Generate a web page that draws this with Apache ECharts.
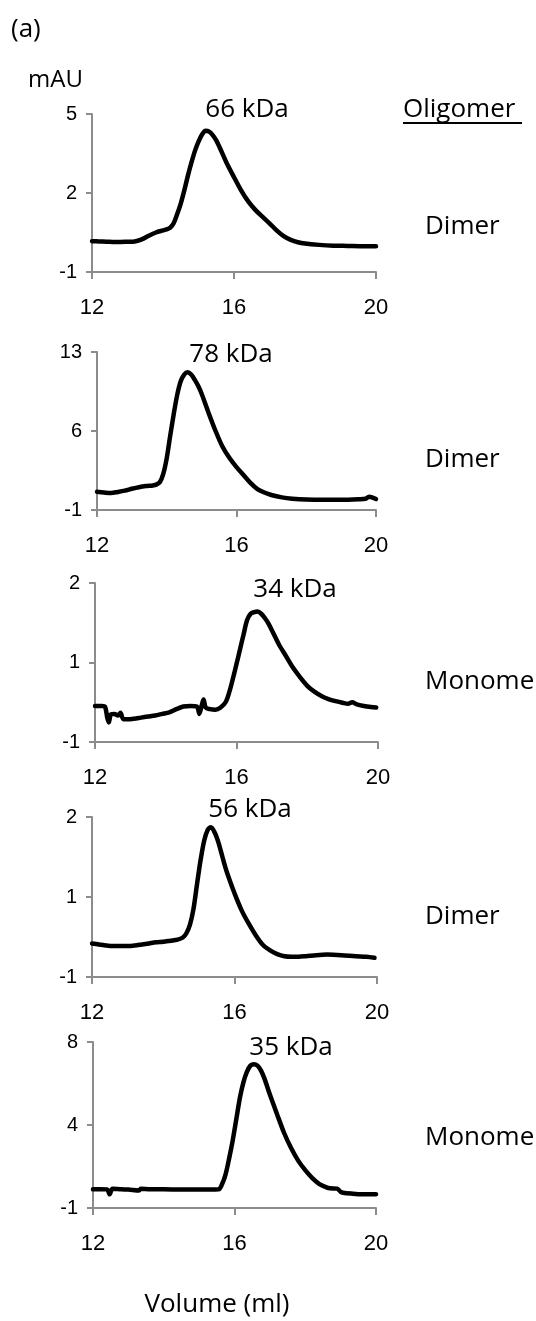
<!DOCTYPE html>
<html>
<head>
<meta charset="utf-8">
<script src="https://cdn.jsdelivr.net/npm/echarts@6/dist/echarts.min.js"></script>
<style>
html,body{margin:0;padding:0;background:#fff;}
#chart{width:536px;height:1321px;}
</style>
</head>
<body>
<div id="chart"></div>
<script>
// ---- data (volume in ml, absorbance in mAU) ----
var x1 = [12.0,12.2,12.4,12.6,12.8,13.0,13.2,13.4,13.6,13.8,14.0,14.1,14.2,14.3,14.4,14.5,14.6,14.7,14.8,14.9,15.0,15.1,15.2,15.3,15.4,15.5,15.6,15.7,15.8,16.0,16.2,16.4,16.6,16.8,17.0,17.2,17.4,17.6,17.8,18.0,18.4,18.8,19.2,19.6,20.0];
var y1 = [0.17,0.16,0.15,0.14,0.14,0.15,0.16,0.24,0.38,0.50,0.58,0.62,0.68,0.85,1.2,1.6,2.1,2.65,3.15,3.6,3.95,4.22,4.36,4.33,4.2,4.0,3.72,3.42,3.12,2.6,2.1,1.68,1.36,1.1,0.85,0.58,0.36,0.22,0.13,0.08,0.03,0.0,-0.01,-0.02,-0.02];

var x2 = [12.0,12.2,12.4,12.6,12.8,13.0,13.2,13.4,13.6,13.7,13.8,13.9,14.0,14.1,14.2,14.3,14.4,14.5,14.6,14.7,14.8,14.9,15.0,15.2,15.4,15.6,15.8,16.0,16.2,16.4,16.6,16.8,17.0,17.3,17.6,18.0,18.5,19.0,19.5,19.7,19.8,19.9,20.0];
var y2 = [0.62,0.55,0.5,0.6,0.72,0.88,1.02,1.12,1.18,1.25,1.45,2.2,3.6,5.6,7.5,9.2,10.4,11.0,11.2,11.0,10.55,10.0,9.3,7.6,6.0,4.6,3.6,2.8,2.1,1.4,0.85,0.55,0.33,0.12,0.0,-0.08,-0.1,-0.1,-0.05,0.0,0.18,0.1,-0.03];

var x3 = [12.0,12.1,12.2,12.28,12.35,12.39,12.45,12.55,12.65,12.72,12.8,12.9,13.1,13.3,13.5,13.7,13.9,14.1,14.3,14.5,14.7,14.88,14.95,15.02,15.07,15.13,15.25,15.4,15.55,15.7,15.8,15.9,16.0,16.1,16.2,16.3,16.4,16.5,16.6,16.7,16.8,16.9,17.0,17.2,17.4,17.6,17.8,18.0,18.2,18.4,18.6,18.8,19.0,19.15,19.27,19.4,19.6,19.8,19.95];
var y3 = [-0.32,-0.32,-0.32,-0.33,-0.55,-0.63,-0.48,-0.47,-0.5,-0.45,-0.57,-0.57,-0.56,-0.54,-0.52,-0.5,-0.47,-0.44,-0.38,-0.33,-0.32,-0.33,-0.47,-0.3,-0.2,-0.35,-0.38,-0.39,-0.35,-0.24,-0.05,0.2,0.47,0.75,1.03,1.3,1.42,1.45,1.46,1.42,1.34,1.24,1.11,0.84,0.62,0.4,0.22,0.06,-0.05,-0.13,-0.19,-0.23,-0.26,-0.28,-0.25,-0.29,-0.32,-0.34,-0.35];

var x4 = [12.0,12.2,12.4,12.6,12.8,13.0,13.2,13.4,13.6,13.8,14.0,14.2,14.4,14.55,14.65,14.75,14.85,14.95,15.05,15.15,15.25,15.34,15.45,15.55,15.65,15.75,15.85,16.0,16.2,16.4,16.6,16.8,17.0,17.2,17.4,17.6,17.8,18.0,18.3,18.6,19.0,19.4,19.7,19.93];
var y4 = [-0.37,-0.39,-0.41,-0.42,-0.42,-0.42,-0.41,-0.39,-0.37,-0.35,-0.34,-0.32,-0.3,-0.26,-0.18,-0.02,0.28,0.75,1.2,1.56,1.76,1.81,1.7,1.52,1.28,1.04,0.84,0.57,0.25,0.0,-0.22,-0.4,-0.5,-0.57,-0.61,-0.62,-0.62,-0.61,-0.59,-0.58,-0.59,-0.61,-0.62,-0.64];

var x5 = [12.0,12.2,12.4,12.47,12.55,12.8,13.0,13.3,13.35,13.6,14.0,14.5,15.0,15.3,15.55,15.65,15.75,15.85,15.95,16.05,16.15,16.25,16.35,16.45,16.55,16.65,16.75,16.85,17.0,17.2,17.4,17.6,17.8,18.0,18.2,18.4,18.6,18.7,18.9,19.0,19.07,19.3,19.6,20.0];
var y5 = [0.01,0.02,0.01,-0.26,0.04,0.01,0.0,-0.05,0.05,0.02,0.01,0.0,0.0,0.0,0.01,0.3,0.84,1.7,2.67,3.8,4.95,5.8,6.38,6.72,6.8,6.72,6.45,6.0,5.15,4.1,3.08,2.25,1.57,1.05,0.62,0.3,0.12,0.07,0.05,-0.12,-0.17,-0.22,-0.26,-0.26];

// tick values (y labels are shown rounded, as in the original)
var xTicks = [12, 16, 20];
var yTicks1 = [-1, 2, 5];
var yTicks2 = [-1, 6, 13];
var yTicks3 = [-1, 0.5, 2];
var yTicks4 = [-1, 0.5, 2];
var yTicks5 = [-1, 3.5, 8];

var massLabels = ['66 kDa', '78 kDa', '34 kDa', '56 kDa', '35 kDa'];
var oligomers = ['Dimer', 'Dimer', 'Monomer', 'Dimer', 'Monomer'];

// ---- layout ----
var grids = [
  {left: 92, top: 114, width: 284, height: 158},
  {left: 97, top: 352, width: 279, height: 158},
  {left: 95, top: 583, width: 283, height: 159},
  {left: 92, top: 817, width: 285, height: 160},
  {left: 93, top: 1042, width: 283, height: 166}
];
var massPos = [[247, 110], [231, 355], [295, 590], [250, 810], [291, 1048]];
var oligoY = [227, 460, 682, 917, 1138];

var xs = [x1, x2, x3, x4, x5];
var ys = [y1, y2, y3, y4, y5];
var yTicks = [yTicks1, yTicks2, yTicks3, yTicks4, yTicks5];

var axisGray = '#8c8c8c';
var textFont = '"Open Sans", "Noto Sans", sans-serif';
var numFont = '"Liberation Sans", Arial, sans-serif';

function zip(a, b) { return a.map(function (v, i) { return [v, b[i]]; }); }

var option = {
  animation: false,
  backgroundColor: '#fff',
  textStyle: {fontFamily: numFont, fontSize: 19, color: '#000'},
  grid: [], xAxis: [], yAxis: [], series: [], graphic: []
};

for (var i = 0; i < 5; i++) {
  var g = grids[i];
  option.grid.push({left: g.left, top: g.top, width: g.width, height: g.height, containLabel: false, outerBoundsMode: 'none'});
  var yt = yTicks[i];
  option.xAxis.push({
    type: 'value', gridIndex: i, min: xTicks[0], max: xTicks[xTicks.length - 1], interval: 4,
    axisLine: {show: true, onZero: false, lineStyle: {color: axisGray, width: 2}},
    axisTick: {show: true, length: 7, lineStyle: {color: axisGray, width: 2}},
    axisLabel: {show: true, margin: 24, color: '#000', fontSize: 22, fontFamily: numFont,
      formatter: function (v) { return '{t|' + v + '}'; },
      rich: {t: {fontSize: 22, fontFamily: numFont, color: '#000', lineHeight: 24}}},
    splitLine: {show: false}
  });
  option.yAxis.push({
    type: 'value', gridIndex: i, min: yt[0], max: yt[yt.length - 1],
    axisLine: {show: true, onZero: false, lineStyle: {color: axisGray, width: 2}},
    axisTick: {show: true, length: 6, customValues: yt, lineStyle: {color: axisGray, width: 2}},
    axisLabel: {show: true, margin: 15, color: '#000', fontSize: 20, fontFamily: numFont,
      customValues: yt,
      formatter: function (v) { return '{t|' + Math.round(v) + '}'; },
      rich: {t: {fontSize: 20, fontFamily: numFont, color: '#000', lineHeight: 22}}},
    splitLine: {show: false}
  });
  option.series.push({
    type: 'line', xAxisIndex: i, yAxisIndex: i, data: zip(xs[i], ys[i]),
    showSymbol: false, smooth: 0.3,
    lineStyle: {color: '#000', width: 4.5, cap: 'round', join: 'round'},
    silent: true, clip: false
  });
  option.graphic.push({
    type: 'text', x: massPos[i][0], y: massPos[i][1],
    style: {text: massLabels[i], fill: '#000', font: '26px ' + textFont, align: 'center', verticalAlign: 'middle'}
  });
  option.graphic.push({
    type: 'text', x: 425, y: oligoY[i],
    style: {text: oligomers[i], fill: '#000', font: '26px ' + textFont, align: 'left', verticalAlign: 'middle'}
  });
}

option.graphic.push(
  {type: 'text', x: 11, y: 30, style: {text: '(a)', fill: '#000', font: '26px ' + textFont, align: 'left', verticalAlign: 'middle'}},
  {type: 'text', x: 28, y: 80, style: {text: 'mAU', fill: '#000', font: '24px ' + textFont, align: 'left', verticalAlign: 'middle'}},
  {type: 'text', x: 403, y: 110, style: {text: 'Oligomer', fill: '#000', font: '26px ' + textFont, align: 'left', verticalAlign: 'middle'}},
  {type: 'line', shape: {x1: 403, y1: 123, x2: 522, y2: 123}, style: {stroke: '#000', lineWidth: 2}},
  {type: 'text', x: 217, y: 1305, style: {text: 'Volume (ml)', fill: '#000', font: '26px ' + textFont, align: 'center', verticalAlign: 'middle'}}
);

var chart = echarts.init(document.getElementById('chart'), null, {renderer: 'canvas', width: 536, height: 1321});
chart.setOption(option);
</script>
</body>
</html>
